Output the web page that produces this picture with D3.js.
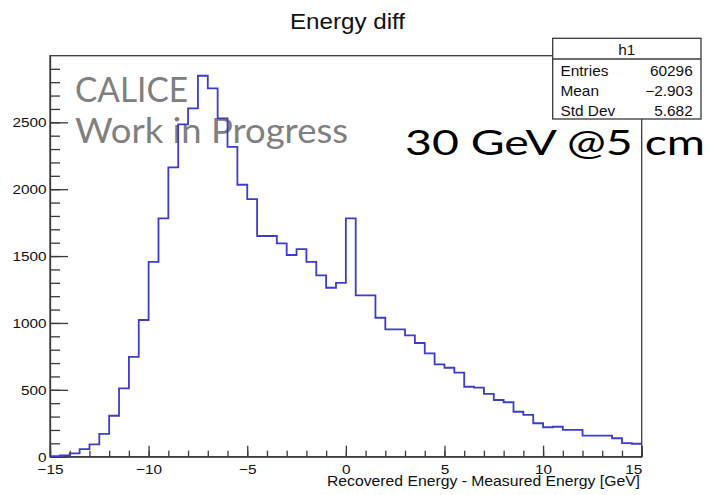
<!DOCTYPE html>
<html>
<head>
<meta charset="utf-8">
<script src="https://cdn.jsdelivr.net/npm/d3@7"></script>
<style>
  body { margin: 0; background: #fff; }
  svg { display: block; }
</style>
</head>
<body>
<div id="chart"></div>
<script>
// Energy diff histogram (ROOT style), 60 bins of 0.5 GeV from -15 to 15

const binLow = -15;
const binWidth = 0.5;
const counts = [
    5, 9, 25, 57, 92, 170, 306, 511, 747, 1022,
    1457, 1782, 2163, 2484, 2604, 2848, 2753, 2530, 2317, 2033,
    1925, 1650, 1650, 1595, 1508, 1552, 1457, 1356, 1263, 1300,
    1782, 1206, 1206, 1039, 952, 952, 907, 850, 773, 690,
    665, 628, 523, 516, 469, 424, 407, 336, 312, 250,
    220, 224, 200, 200, 157, 157, 157, 138, 102, 97
];
const xMajorTicks = [-15, -10, -5, 0, 5, 10, 15];
const yMajorTicks = [0, 500, 1000, 1500, 2000, 2500];
const statsNames = ["Entries", "Mean", "Std Dev"];
const statsValues = ["60296", "\u22122.903", "5.682"];

const width = 710;
const height = 495;
const plotL = 50, plotR = 641.7, plotT = 55.7, plotB = 456.7;

const svg = d3.select("#chart")
    .append("svg")
    .attr("width", width)
    .attr("height", height);

const x = d3.scaleLinear().domain([-15, 15]).range([plotL, plotR]);
const y = d3.scaleLinear().domain([0, 2998]).range([plotB, plotT]);

const axisColor = "#3a3a3a";
const helv = "'Liberation Sans', Arial, sans-serif";
const sx = 1.18; // text in the picture is stretched sideways

// stretched text helper
function label(g, tx, ty, str, size, anchor, stretch) {
    return g.append("text")
        .attr("transform", `translate(${tx},${ty}) scale(${stretch},1)`)
        .attr("text-anchor", anchor)
        .style("font-family", helv)
        .style("font-size", size + "px")
        .style("fill", "#111")
        .text(str);
}

// frame
svg.append("rect")
    .attr("x", plotL).attr("y", plotT)
    .attr("width", plotR - plotL).attr("height", plotB - plotT)
    .attr("fill", "none")
    .attr("stroke", axisColor)
    .attr("stroke-width", 1.3);

// x axis: minor ticks
svg.append("g")
    .attr("transform", `translate(0,${plotB})`)
    .call(d3.axisBottom(x).tickValues(d3.range(-15, 16, 1)).tickSize(-6).tickFormat(""))
    .call(g => g.select(".domain").remove())
    .call(g => g.selectAll("line").attr("stroke", axisColor).attr("stroke-width", 1.3));

// x axis: major ticks + labels
const xAxis = svg.append("g")
    .attr("transform", `translate(0,${plotB})`)
    .call(d3.axisBottom(x).tickValues(xMajorTicks).tickSize(-11).tickSizeOuter(0)
        .tickFormat(d => d < 0 ? "\u2212" + Math.abs(d) : d));
xAxis.select(".domain").attr("stroke", axisColor).attr("stroke-width", 1.3);
xAxis.selectAll("line").attr("stroke", axisColor).attr("stroke-width", 1.3);
xAxis.selectAll("text")
    .attr("y", null).attr("dy", null)
    .attr("transform", `translate(0,16.8) scale(${sx},1)`)
    .attr("text-anchor", (d, i) => i === xMajorTicks.length - 1 ? "end" : "middle")
    .style("font-family", helv)
    .style("font-size", "13px")
    .style("fill", "#111");

// y axis: minor ticks
svg.append("g")
    .attr("transform", `translate(${plotL},0)`)
    .call(d3.axisLeft(y).tickValues(d3.range(0, 2901, 100)).tickSize(-10).tickFormat(""))
    .call(g => g.select(".domain").remove())
    .call(g => g.selectAll("line").attr("stroke", axisColor).attr("stroke-width", 1.3));

// y axis: major ticks + labels
const yAxis = svg.append("g")
    .attr("transform", `translate(${plotL},0)`)
    .call(d3.axisLeft(y).tickValues(yMajorTicks).tickSize(-18).tickSizeOuter(0)
        .tickFormat(d3.format("d")));
yAxis.select(".domain").attr("stroke", axisColor).attr("stroke-width", 1.3);
yAxis.selectAll("line").attr("stroke", axisColor).attr("stroke-width", 1.3);
yAxis.selectAll("text")
    .attr("x", null).attr("dy", null)
    .attr("transform", `translate(-3.5,4.6) scale(${sx},1)`)
    .attr("text-anchor", "end")
    .style("font-family", helv)
    .style("font-size", "13px")
    .style("fill", "#111");

// histogram outline
const edges = counts.map((c, i) => ({ lo: binLow + i * binWidth, c }));
edges.push({ lo: binLow + counts.length * binWidth, c: counts[counts.length - 1] });

const line = d3.line()
    .x(d => x(d.lo))
    .y(d => y(d.c))
    .curve(d3.curveStepAfter);

// overlay text
svg.append("text")
    .attr("x", 75).attr("y", 102.3)
    .attr("textLength", 113).attr("lengthAdjust", "spacingAndGlyphs")
    .style("font-family", "Lato, sans-serif")
    .style("font-size", "35px")
    .style("fill", "#808080")
    .text("CALICE");
svg.append("text")
    .attr("x", 75).attr("y", 143.3)
    .attr("textLength", 273).attr("lengthAdjust", "spacingAndGlyphs")
    .style("font-family", "Lato, sans-serif")
    .style("font-size", "35px")
    .style("fill", "#808080")
    .text("Work in Progress");

svg.append("path")
    .datum(edges)
    .attr("d", line)
    .attr("fill", "none")
    .attr("stroke", "#3c3cd0")
    .attr("stroke-width", 1.8);

// title
label(svg, 347.5, 28.5, "Energy diff", 22, "middle", 1.1);

// x axis title
svg.append("text")
    .attr("x", 327).attr("y", 486)
    .attr("textLength", 313).attr("lengthAdjust", "spacingAndGlyphs")
    .style("font-family", helv)
    .style("font-size", "15px")
    .style("fill", "#111")
    .text("Recovered Energy - Measured Energy [GeV]");

// stats box
const box = svg.append("g");
box.append("rect")
    .attr("x", 552.7).attr("y", 38.3)
    .attr("width", 148.3).attr("height", 80.7)
    .attr("fill", "#fff")
    .attr("stroke", axisColor)
    .attr("stroke-width", 1.3);
box.append("line")
    .attr("x1", 552.7).attr("x2", 701)
    .attr("y1", 59).attr("y2", 59)
    .attr("stroke", axisColor)
    .attr("stroke-width", 1.3);
label(box, 626.8, 55, "h1", 14, "middle", 1.1);
statsNames.forEach((n, i) => {
    label(box, 560.5, 75.5 + i * 20, n, 14, "start", 1.1);
    label(box, 692.7, 75.5 + i * 20, statsValues[i], 14, "end", 1.1);
});

// energy / position annotation
svg.append("text")
    .attr("x", 405).attr("y", 155)
    .attr("textLength", 300).attr("lengthAdjust", "spacingAndGlyphs")
    .style("font-family", "Lato, sans-serif")
    .style("font-size", "35px")
    .style("fill", "#000")
    .text("30 GeV @5 cm");
</script>
</body>
</html>
